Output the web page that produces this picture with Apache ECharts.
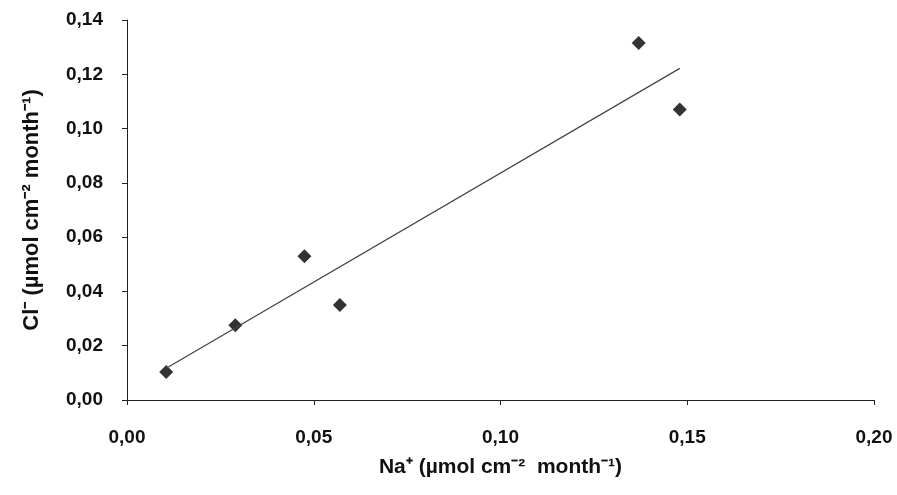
<!DOCTYPE html>
<html>
<head>
<meta charset="utf-8">
<script src="https://cdn.jsdelivr.net/npm/echarts@6/dist/echarts.min.js"></script>
<style>
  html, body { margin: 0; padding: 0; background: #fff; }
  #chart { width: 897px; height: 495px; }
</style>
</head>
<body>
<div id="chart"></div>
<script>
// Na+ vs Cl- deposition (µmol cm-2 month-1)
const naValues = [0.0105, 0.029, 0.0475, 0.057, 0.137, 0.148]
const clValues = [0.0103, 0.0275, 0.053, 0.035, 0.1315, 0.107]

const xTicks = { min: 0, max: 0.20, interval: 0.05 }
const yTicks = { min: 0, max: 0.14, interval: 0.02 }

const points = naValues.map((x, i) => [x, clValues[i]])

// least squares trend line over the data range
function trendLine(xs, ys) {
    const n = xs.length
    const mx = xs.reduce((a, b) => a + b, 0) / n
    const my = ys.reduce((a, b) => a + b, 0) / n
    let sxy = 0, sxx = 0
    for (let i = 0; i < n; i++) {
        sxy += (xs[i] - mx) * (ys[i] - my)
        sxx += (xs[i] - mx) * (xs[i] - mx)
    }
    const k = sxy / sxx
    const b = my - k * mx
    const x0 = Math.min(...xs), x1 = Math.max(...xs)
    return [[x0, k * x0 + b], [x1, k * x1 + b]]
}

const fmt = v => v.toFixed(2).replace('.', ',')
const font = { fontFamily: 'Liberation Sans, Arial, sans-serif', fontWeight: 'bold', fontSize: 19, color: '#111' }
const titleFont = Object.assign({}, font, { fontSize: 21 })

const chart = echarts.init(document.getElementById('chart'))
chart.setOption({
    animation: false,
    grid: { left: 127, right: 23, top: 20, bottom: 95 },
    xAxis: {
        type: 'value',
        min: xTicks.min, max: xTicks.max, interval: xTicks.interval,
        name: 'Na⁺ (µmol cm⁻²  month⁻¹)',
        nameLocation: 'middle',
        nameGap: 57,
        nameTextStyle: titleFont,
        axisLine: { lineStyle: { color: '#222', width: 1 } },
        axisTick: { length: 5, lineStyle: { color: '#222' } },
        axisLabel: Object.assign({ margin: 28, formatter: fmt }, font),
        splitLine: { show: false }
    },
    yAxis: {
        type: 'value',
        min: yTicks.min, max: yTicks.max, interval: yTicks.interval,
        name: 'Cl⁻ (µmol cm⁻² month⁻¹)',
        nameLocation: 'middle',
        nameGap: 84,
        nameTextStyle: Object.assign({}, titleFont, { fontSize: 22 }),
        axisLine: { show: true, lineStyle: { color: '#222', width: 1 } },
        axisTick: { show: true, length: 5, lineStyle: { color: '#222' } },
        axisLabel: Object.assign({ margin: 24, formatter: fmt }, font),
        splitLine: { show: false }
    },
    series: [
        {
            type: 'line',
            data: trendLine(naValues, clValues),
            symbol: 'none',
            lineStyle: { color: '#444', width: 1.2 },
            silent: true
        },
        {
            type: 'scatter',
            data: points,
            symbol: 'diamond',
            symbolSize: 14,
            itemStyle: { color: '#000' }
        }
    ]
})
</script>
</body>
</html>
